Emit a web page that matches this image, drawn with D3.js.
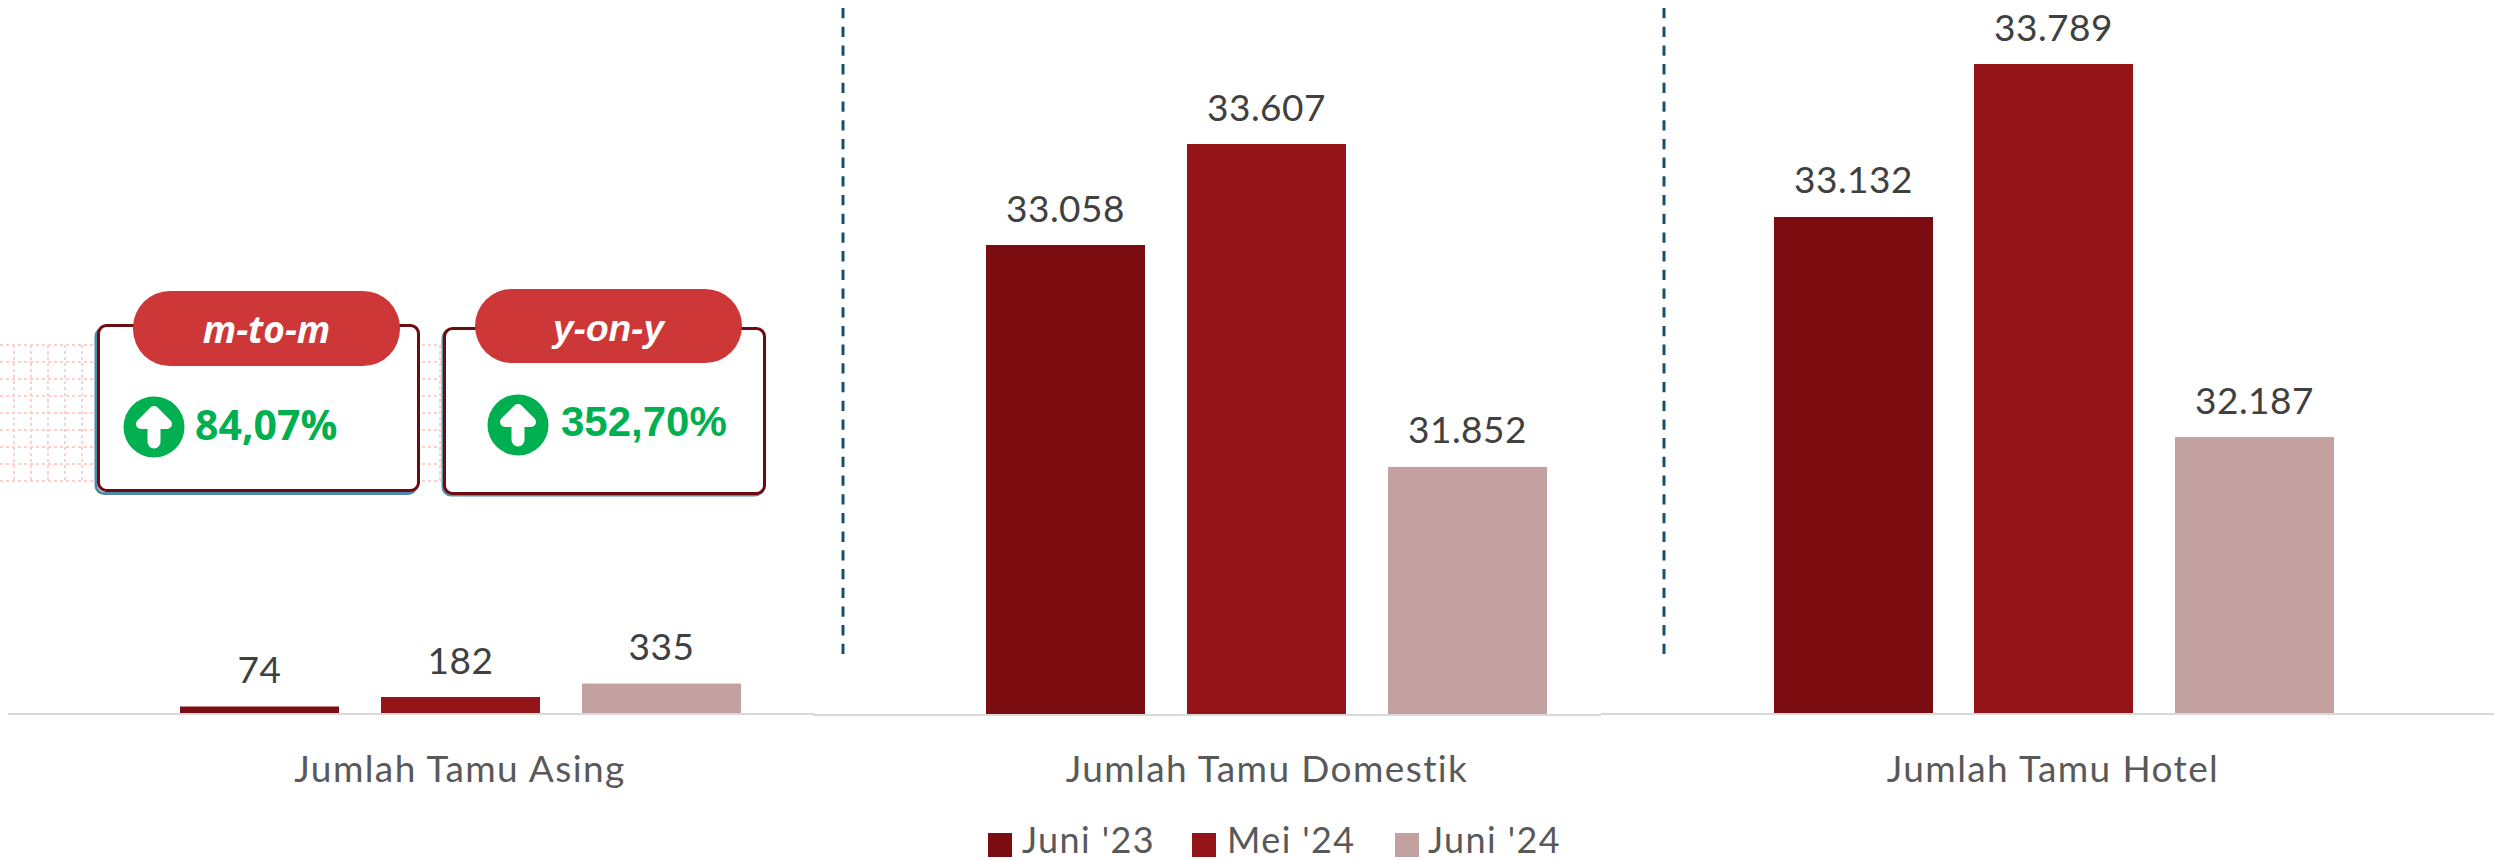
<!DOCTYPE html>
<html><head><meta charset="utf-8">
<script src="https://cdn.jsdelivr.net/npm/d3@7/dist/d3.min.js"></script>
<style>html,body{margin:0;padding:0;background:#fff}svg{display:block}</style></head>
<body><svg id="c" width="2494" height="861"></svg>
<script>
const panels = ["Jumlah Tamu Asing","Jumlah Tamu Domestik","Jumlah Tamu Hotel"];
const seriesNames = ["Juni '23","Mei '24","Juni '24"];
const seriesColors = ["#7b0d10","#951417","#c2a1a0"];
const asing = [74,182,335];
const domestik = [33058,33607,31852];
const hotel = [33132,33789,32187];
const labelsAsing = ["74","182","335"];
const labelsDomestik = ["33.058","33.607","31.852"];
const labelsHotel = ["33.132","33.789","32.187"];
const badges = ["m-to-m","y-on-y"];
const badgeValues = ["84,07%","352,70%"];

const svg = d3.select("#c");
const FONT = "Lato, 'Noto Sans', sans-serif";

// dotted decoration behind the boxes
const deco = svg.append("g").attr("stroke","#fdd0cc").attr("stroke-width",2).attr("stroke-dasharray","3 3");
const decoY = d3.range(345,482,17);
decoY.forEach(y=>{
  deco.append("line").attr("x1",0).attr("x2",94).attr("y1",y).attr("y2",y);
  deco.append("line").attr("x1",422).attr("x2",441).attr("y1",y).attr("y2",y);
});
[14,31,48,65,82,440].forEach(x=>deco.append("line").attr("x1",x).attr("x2",x).attr("y1",345).attr("y2",482));

const panelCfg=[
 {vals:asing,labels:labelsAsing,dom:[0,3850],top:375,cx:460,xs:[180,381,582],y0:713},
 {vals:domestik,labels:labelsDomestik,dom:[30509,33607],top:144,cx:1267,xs:[986,1187,1388],y0:714},
 {vals:hotel,labels:labelsHotel,dom:[31002,33789],top:64,cx:2053,xs:[1774,1974,2175],y0:713}];
const barW=159;

// baseline segments
svg.append("g").attr("stroke","#d9d9d9").attr("stroke-width",2).selectAll("line")
 .data([[8,815,714],[813,914,715],[913,1601,715],[1601,1720,714],[1720,2494,714]]).join("line")
 .attr("x1",d=>d[0]).attr("x2",d=>d[1]).attr("y1",d=>d[2]).attr("y2",d=>d[2]);

panelCfg.forEach((p,pi)=>{
  const y=d3.scaleLinear().domain(p.dom).range([p.y0,p.top]);
  const g=svg.append("g");
  g.selectAll("rect").data(p.vals).join("rect")
    .attr("x",(d,i)=>p.xs[i]).attr("width",barW)
    .attr("y",d=>y(d)).attr("height",d=>p.y0-y(d))
    .attr("fill",(d,i)=>seriesColors[i]);
  g.selectAll("text").data(p.vals).join("text")
    .attr("x",(d,i)=>p.xs[i]+barW/2).attr("y",d=>y(d)-23.5)
    .attr("text-anchor","middle").attr("font-family",FONT).attr("font-size",37)
    .attr("letter-spacing",0.5).attr("fill","#404040")
    .text((d,i)=>p.labels[i]);
  svg.append("text").attr("x",p.cx).attr("y",782).attr("text-anchor","middle")
    .attr("font-family",FONT).attr("font-size",37).attr("letter-spacing",1.4)
    .attr("fill","#595959").text(panels[pi]);
});

// dashed separators
svg.append("g").attr("stroke","#17506e").attr("stroke-width",3).attr("stroke-dasharray","10.3 8.4")
 .selectAll("line").data([843,1664]).join("line")
 .attr("x1",d=>d).attr("x2",d=>d).attr("y1",-10.7).attr("y2",654);

// legend
const legX=[988,1192,1395], legT=[1022,1227,1428];
seriesNames.forEach((s,i)=>{
  svg.append("rect").attr("x",legX[i]).attr("y",833).attr("width",24).attr("height",24).attr("fill",seriesColors[i]);
  svg.append("text").attr("x",legT[i]).attr("y",853).attr("font-family",FONT).attr("font-size",36)
    .attr("letter-spacing",1.4).attr("fill","#595959").text(s);
});

// badges
const box=[
 {x:98.5,y:325.5,w:320,h:165,sx:-2.5,sy:3,sc:"#4f8aab",px:133,py:291,pw:267,ph:75,cx:154,cy:427,r:30.5,tx:195,ty:440,fam:"'Open Sans'",fs:41,lfam:"'Open Sans'",lfs:37,ly:343},
 {x:444.5,y:328.5,w:320,h:165,sx:-1.5,sy:1.5,sc:"#5f8da8",px:475,py:289,pw:267,ph:74,cx:518,cy:425,r:30.5,tx:561,ty:436,fam:"'Liberation Sans'",fs:42,lfam:"'Liberation Sans'",lfs:37,ly:341}];
box.forEach((b,i)=>{
  const g=svg.append("g");
  g.append("rect").attr("x",b.x+b.sx).attr("y",b.y+b.sy).attr("width",b.w).attr("height",b.h).attr("rx",8)
   .attr("fill","none").attr("stroke",b.sc).attr("stroke-width",3);
  g.append("rect").attr("x",b.x).attr("y",b.y).attr("width",b.w).attr("height",b.h).attr("rx",8)
   .attr("fill","#fff").attr("stroke","#6b0d10").attr("stroke-width",3);
  g.append("rect").attr("x",b.px).attr("y",b.py).attr("width",b.pw).attr("height",b.ph).attr("rx",37).attr("fill","#ce3737");
  g.append("text").attr("x",b.px+b.pw/2).attr("y",b.ly).attr("text-anchor","middle").attr("fill","#fff")
   .attr("font-family",b.lfam).attr("font-weight","bold").attr("font-style","italic").attr("font-size",b.lfs).text(badges[i]);
  g.append("circle").attr("cx",b.cx).attr("cy",b.cy).attr("r",b.r).attr("fill","#00b050");
  const a=g.append("g").attr("transform",`translate(${b.cx},${b.cy})`);
  a.append("path").attr("d","M-13,-3 L0,-16 L13,-3 Z").attr("fill","#fff").attr("stroke","#fff").attr("stroke-width",10).attr("stroke-linejoin","round");
  a.append("line").attr("x1",0).attr("x2",0).attr("y1",-6).attr("y2",15).attr("stroke","#fff").attr("stroke-width",13).attr("stroke-linecap","round");
  g.append("text").attr("x",b.tx).attr("y",b.ty).attr("fill","#00b050")
   .attr("font-family",b.fam).attr("font-weight","bold").attr("font-size",b.fs).text(badgeValues[i]);
});
</script></body></html>
